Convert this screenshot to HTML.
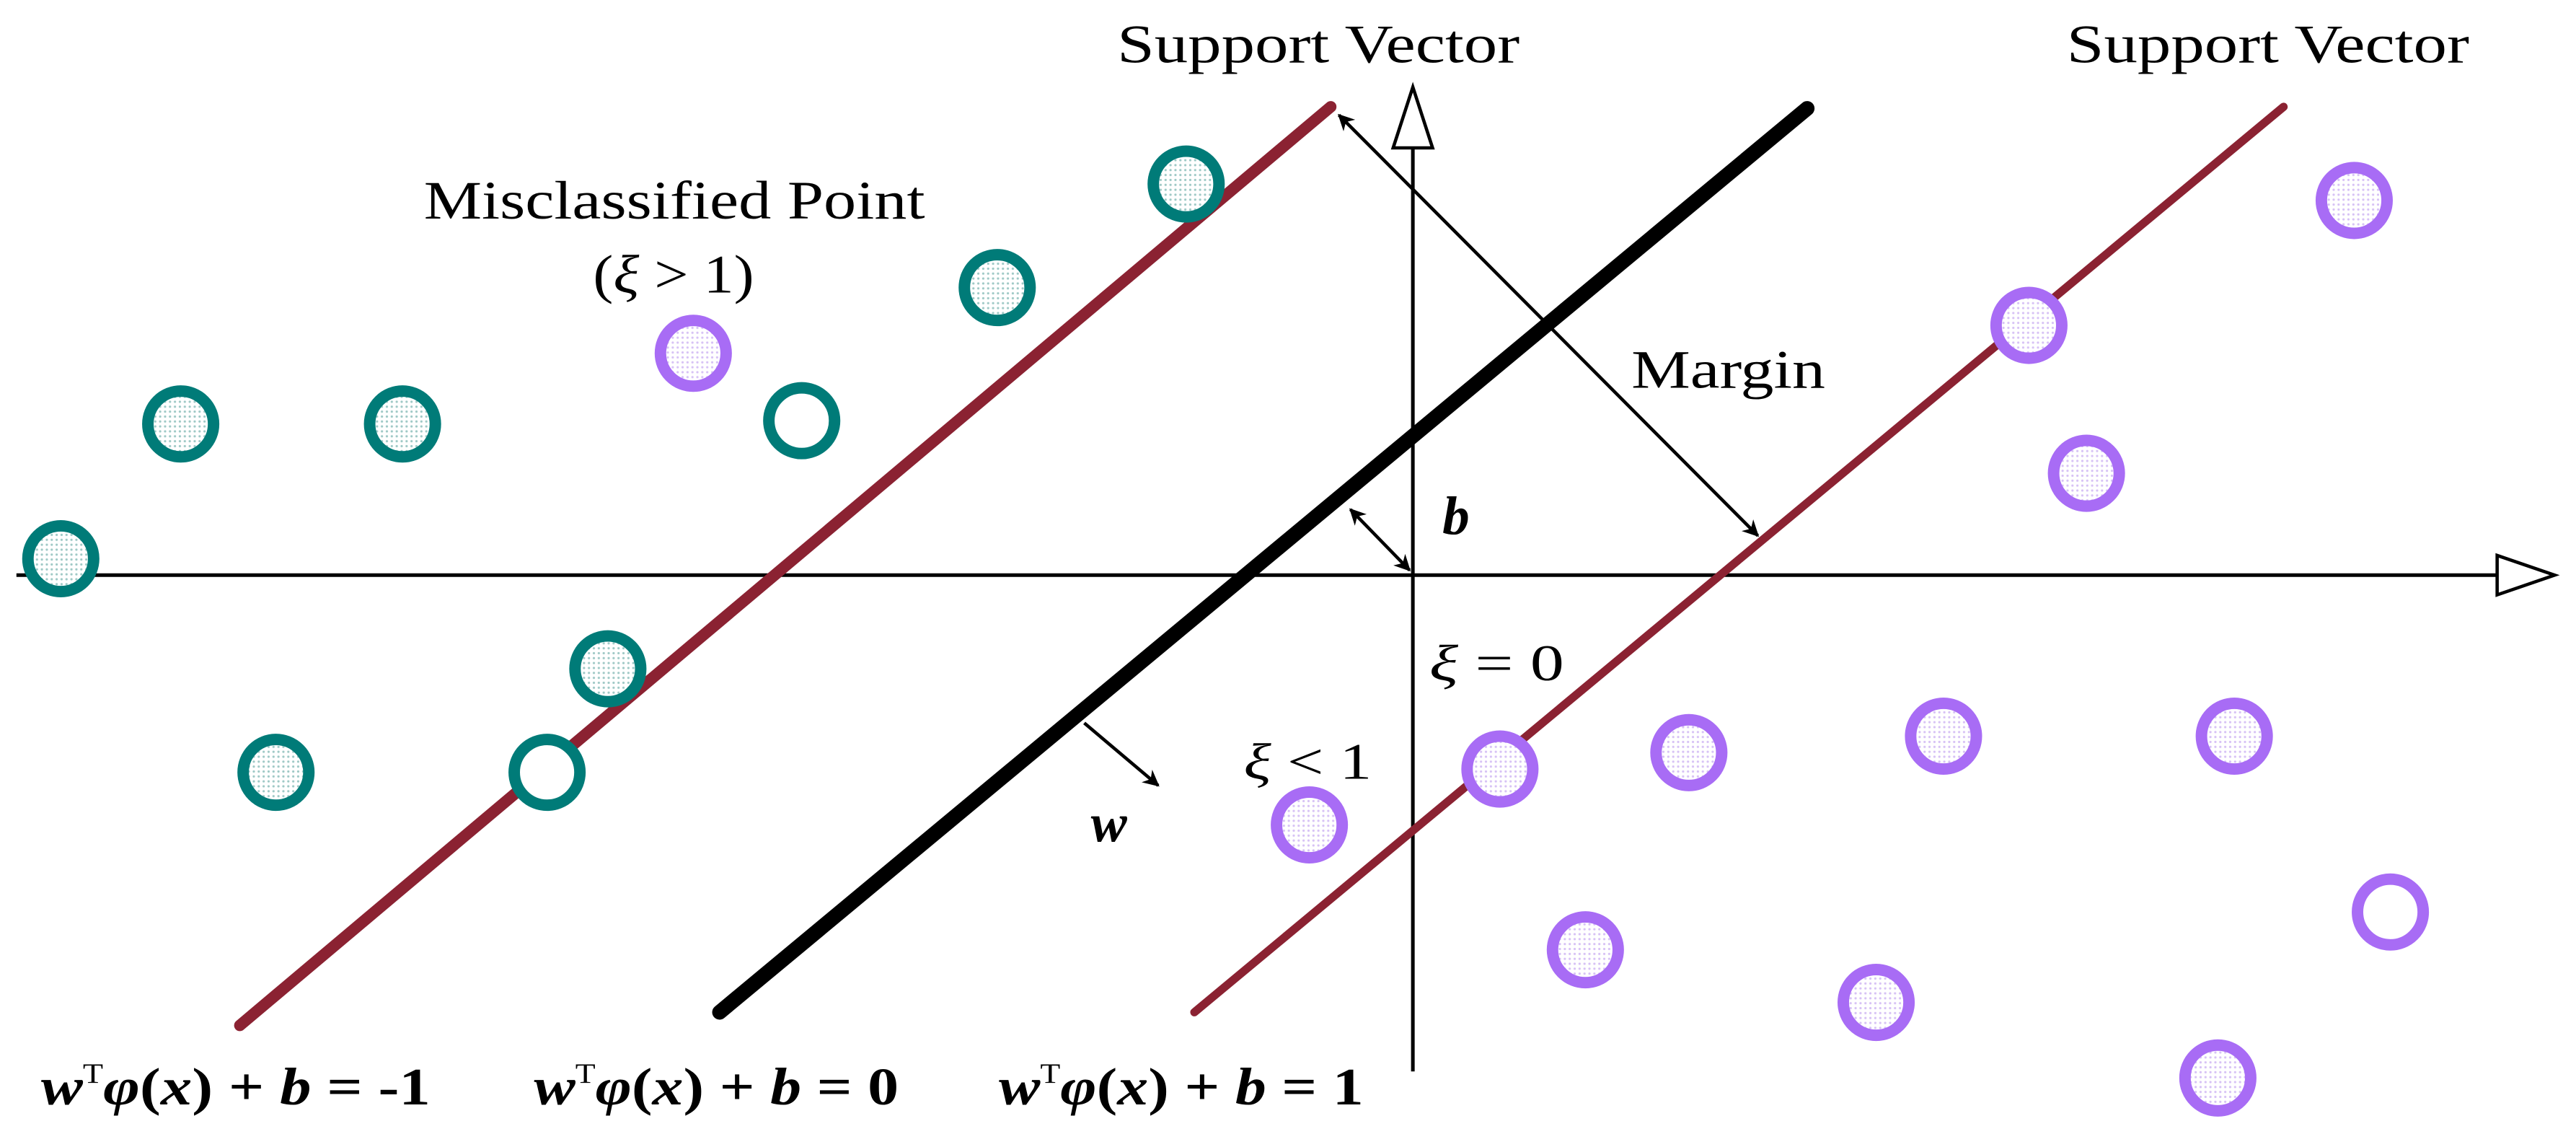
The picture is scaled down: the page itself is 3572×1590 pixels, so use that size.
<!DOCTYPE html>
<html><head><meta charset="utf-8"><style>
html,body{margin:0;padding:0;background:#fff;}
svg{display:block;}
text{font-family:"Liberation Serif","DejaVu Serif",serif;fill:#000;}
</style></head><body>
<svg width="3572" height="1590" viewBox="0 0 1568 698" preserveAspectRatio="none" xmlns="http://www.w3.org/2000/svg">
<defs>
<pattern id="dots" width="3" height="3" patternUnits="userSpaceOnUse"><rect width="3" height="3" fill="#fff"/><circle cx="1.5" cy="1.5" r="0.7" fill="#9fc9c6"/></pattern>
<pattern id="pdots" width="3" height="3" patternUnits="userSpaceOnUse"><rect width="3" height="3" fill="#fff"/><circle cx="1.5" cy="1.5" r="0.7" fill="#d7c2f5"/></pattern>
<marker id="ah" markerWidth="10" markerHeight="10" refX="9" refY="5" orient="auto" markerUnits="userSpaceOnUse"><path d="M0,0 L10,5 L0,10 L3,5 z" fill="#000"/></marker>
<marker id="ahs" markerWidth="10" markerHeight="10" refX="1" refY="5" orient="auto" markerUnits="userSpaceOnUse"><path d="M10,0 L0,5 L10,10 L7,5 z" fill="#000"/></marker>
</defs>
<line x1="10" y1="350" x2="1520" y2="350" stroke="#000" stroke-width="2.2"/>
<path d="M1520,338 L1555,350 L1520,362 z" fill="#fff" stroke="#000" stroke-width="2"/>
<line x1="860" y1="652" x2="860" y2="90" stroke="#000" stroke-width="2.2"/>
<path d="M848,90 L860,53 L872,90 z" fill="#fff" stroke="#000" stroke-width="2"/>
<line x1="146" y1="624" x2="810" y2="65" stroke="#8B2232" stroke-width="7" stroke-linecap="round"/>
<line x1="438" y1="616" x2="1100" y2="66" stroke="#000" stroke-width="9" stroke-linecap="round"/>
<line x1="727" y1="616" x2="1390" y2="65" stroke="#8B2232" stroke-width="5" stroke-linecap="round"/>
<line x1="815" y1="70" x2="1070" y2="326" stroke="#000" stroke-width="2" marker-start="url(#ahs)" marker-end="url(#ah)"/>
<line x1="822" y1="310" x2="858" y2="347" stroke="#000" stroke-width="2" marker-start="url(#ahs)" marker-end="url(#ah)"/>
<line x1="660" y1="440" x2="705" y2="478" stroke="#000" stroke-width="2" marker-end="url(#ah)"/>
<g stroke="#007B78" stroke-width="7" fill="url(#dots)">
<circle cx="37" cy="340" r="20"/><circle cx="110" cy="258" r="20"/><circle cx="245" cy="258" r="20"/>
<circle cx="488" cy="256" r="20" fill="#fff"/><circle cx="607" cy="175" r="20"/><circle cx="722" cy="112" r="20"/>
<circle cx="370" cy="407" r="20"/><circle cx="168" cy="470" r="20"/><circle cx="333" cy="470" r="20" fill="#fff"/>
</g>
<g stroke="#A86CF5" stroke-width="7" fill="url(#pdots)">
<circle cx="422" cy="215" r="20"/><circle cx="1433" cy="122" r="20"/><circle cx="1235" cy="198" r="20"/>
<circle cx="1270" cy="288" r="20"/><circle cx="913" cy="468" r="20"/><circle cx="1028" cy="458" r="20"/>
<circle cx="1183" cy="448" r="20"/><circle cx="1360" cy="448" r="20"/><circle cx="797" cy="502" r="20"/>
<circle cx="1455" cy="555" r="20" fill="#fff"/><circle cx="965" cy="578" r="20"/><circle cx="1142" cy="610" r="20"/>
<circle cx="1350" cy="656" r="20"/>
</g>
<text x="680" y="38" font-size="33" textLength="245" lengthAdjust="spacingAndGlyphs">Support Vector</text>
<text x="1258" y="38" font-size="33" textLength="245" lengthAdjust="spacingAndGlyphs">Support Vector</text>
<text x="258" y="133" font-size="33" textLength="305" lengthAdjust="spacingAndGlyphs">Misclassified Point</text>
<text x="361" y="178" font-size="33" textLength="98" lengthAdjust="spacingAndGlyphs">(<tspan font-style="italic">ξ</tspan> &gt; 1)</text>
<text x="993" y="236" font-size="33" textLength="118" lengthAdjust="spacingAndGlyphs">Margin</text>
<text x="878" y="325" font-size="33" font-style="italic" font-weight="bold">b</text>
<text x="870" y="414" font-size="31" textLength="82" lengthAdjust="spacingAndGlyphs"><tspan font-style="italic">ξ</tspan> = 0</text>
<text x="757" y="474" font-size="31" textLength="78" lengthAdjust="spacingAndGlyphs"><tspan font-style="italic">ξ</tspan> &lt; 1</text>
<text x="664" y="512" font-size="33" font-style="italic" font-weight="bold">w</text>
<g font-size="32" font-weight="bold">
<text x="25" y="672" textLength="237" lengthAdjust="spacingAndGlyphs"><tspan font-style="italic">w</tspan><tspan font-size="17" dy="-13" font-weight="normal">T</tspan><tspan dy="13" font-style="italic">φ</tspan>(<tspan font-style="italic">x</tspan>) + <tspan font-style="italic">b</tspan> = -1</text>
<text x="325" y="672" textLength="222" lengthAdjust="spacingAndGlyphs"><tspan font-style="italic">w</tspan><tspan font-size="17" dy="-13" font-weight="normal">T</tspan><tspan dy="13" font-style="italic">φ</tspan>(<tspan font-style="italic">x</tspan>) + <tspan font-style="italic">b</tspan> = 0</text>
<text x="608" y="672" textLength="222" lengthAdjust="spacingAndGlyphs"><tspan font-style="italic">w</tspan><tspan font-size="17" dy="-13" font-weight="normal">T</tspan><tspan dy="13" font-style="italic">φ</tspan>(<tspan font-style="italic">x</tspan>) + <tspan font-style="italic">b</tspan> = 1</text>
</g>
</svg>
</body></html>
